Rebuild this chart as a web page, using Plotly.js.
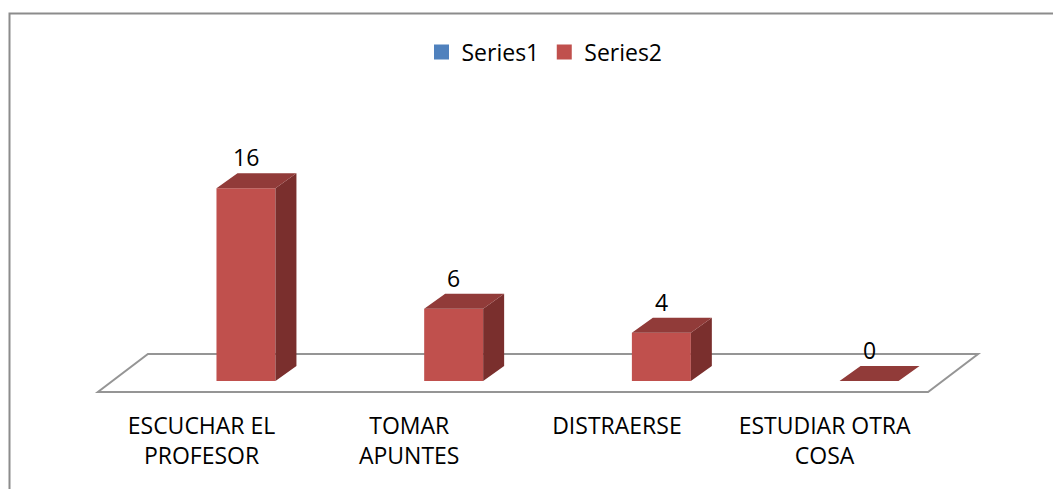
<!DOCTYPE html>
<html>
<head>
<meta charset="utf-8">
<script src="https://cdn.plot.ly/plotly-3.0.1.min.js"></script>
<style>
  html, body { margin: 0; padding: 0; background: #fff; }
  #chart { width: 1053px; height: 489px; }
</style>
</head>
<body>
<div id="chart"></div>
<script>
// ---- data ----
const categories = ['ESCUCHAR EL<br>PROFESOR', 'TOMAR<br>APUNTES', 'DISTRAERSE', 'ESTUDIAR OTRA<br>COSA'];
const series1 = [null, null, null, null];
const series2 = [16, 6, 4, 0];
const seriesNames = ['Series1', 'Series2'];

// ---- style / geometry constants ----
const W = 1053, H = 489;
const M = { l: 20, r: 13, t: 90, b: 89 };
const barW = 0.284;          // bar width in category units
const depthX = 0.101;        // 3D depth offset (x units)
const depthY = 1.245;        // 3D depth offset (y units)
const tickShift = -0.214;    // labels sit at the floor's front edge
const floor = { fl: -0.713, fr: 3.284, bl: -0.472, br: 3.525, yf: -0.913, yb: 2.24 };
const colFront = '#C0504D', colSide = '#7A2F2D', colTop = '#913B39', colS1 = '#4F81BD';
const font = 'Open Sans, Noto Sans, sans-serif';
const fs = 23;

const idx = categories.map((_, i) => i);

// side & top faces from data
const sideX = [], sideY = [], topX = [], topY = [];
series2.forEach((v, i) => {
  const xr = i + barW / 2, xl = i - barW / 2;
  sideX.push(xr, xr + depthX, xr + depthX, xr, xr, null);
  sideY.push(0, depthY, v + depthY, v, 0, null);
  topX.push(xl, xr, xr + depthX, xl + depthX, xl, null);
  topY.push(v, v, v + depthY, v + depthY, v, null);
});

const traces = [
  { type: 'bar', name: seriesNames[0], x: idx, y: series1, width: barW,
    marker: { color: colS1 }, hoverinfo: 'skip', showlegend: false },
  { type: 'bar', name: seriesNames[1], x: idx, y: series2, width: barW,
    marker: { color: colFront, line: { width: 0 } }, hoverinfo: 'skip', showlegend: false },
  { type: 'scatter', mode: 'lines', x: sideX, y: sideY, fill: 'toself',
    fillcolor: colSide, line: { width: 0, color: colSide }, showlegend: false, hoverinfo: 'skip' },
  { type: 'scatter', mode: 'lines', x: topX, y: topY, fill: 'toself',
    fillcolor: colTop, line: { width: 0, color: colTop }, showlegend: false, hoverinfo: 'skip' },
  // legend entries (square swatches like the original)
  { type: 'scatter', mode: 'markers', name: seriesNames[0], x: [null], y: [null],
    marker: { symbol: 'square', size: 15, color: colS1 }, hoverinfo: 'skip' },
  { type: 'scatter', mode: 'markers', name: seriesNames[1], x: [null], y: [null],
    marker: { symbol: 'square', size: 15, color: colFront }, hoverinfo: 'skip' }
];

const pw = W - M.l - M.r, ph = H - M.t - M.b;
const annotations = series2.map((v, i) => ({
  x: i, y: v + depthY, xref: 'x', yref: 'y', text: String(v), showarrow: false,
  yanchor: 'bottom', yshift: -2, font: { family: font, size: fs, color: '#000' }
}));

const layout = {
  width: W, height: H,
  margin: M,
  paper_bgcolor: '#fff', plot_bgcolor: '#fff',
  font: { family: font, size: fs, color: '#000' },
  barmode: 'overlay',
  showlegend: true,
  legend: { orientation: 'h', x: (544.5 - M.l) / pw, xanchor: 'center',
    yref: 'container', y: 1 - 52 / H, yanchor: 'middle',
    font: { family: font, size: fs, color: '#000' }, itemwidth: 30, traceorder: 'normal' },
  xaxis: { range: [-1.088, 3.823], showgrid: false, zeroline: false, showline: false,
    tickmode: 'array', tickvals: idx.map(i => i + tickShift), ticktext: categories,
    ticks: '', ticklabelstandoff: 10, tickfont: { family: font, size: fs, color: '#000' }, fixedrange: true },
  yaxis: { range: [-1.577, 24.15], visible: false, fixedrange: true },
  annotations: annotations,
  shapes: [
    { type: 'path', xref: 'x', yref: 'y', layer: 'below',
      path: `M ${floor.fl} ${floor.yf} L ${floor.fr} ${floor.yf} L ${floor.br} ${floor.yb} L ${floor.bl} ${floor.yb} Z`,
      line: { color: '#959595', width: 2 }, fillcolor: '#ffffff' },
    { type: 'rect', xref: 'paper', yref: 'paper', layer: 'below',
      x0: (9.5 - M.l) / pw, x1: (1060 - M.l) / pw,
      y0: (H - M.b - 500) / ph, y1: (H - M.b - 13.5) / ph,
      line: { color: '#8c8c8c', width: 2 }, fillcolor: 'rgba(0,0,0,0)' }
  ]
};

Plotly.newPlot('chart', traces, layout, { staticPlot: true, displayModeBar: false });
</script>
</body>
</html>
